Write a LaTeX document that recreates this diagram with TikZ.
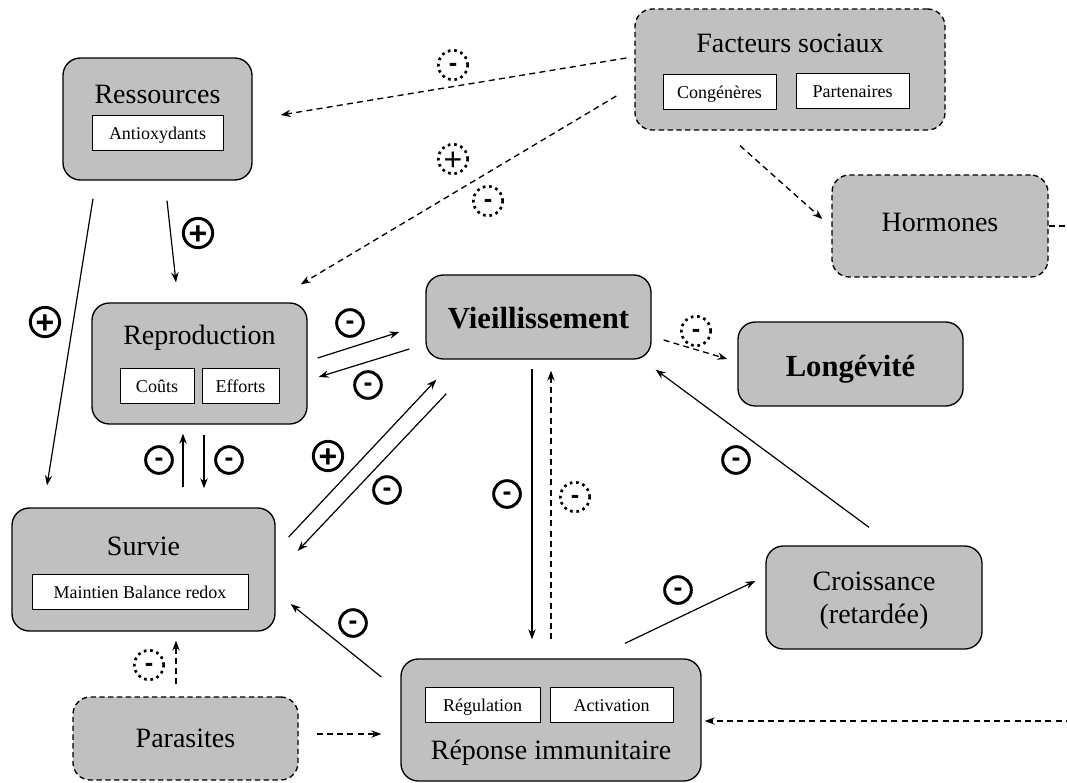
\documentclass[tikz,border=0pt]{standalone}
\usepackage{fontspec}
\setmainfont{Liberation Serif}
\newfontfamily\signfont{Liberation Sans}
\usetikzlibrary{arrows.meta,calc}
\definecolor{boxgray}{RGB}{192,192,192}
\begin{document}
\begin{tikzpicture}[x=0.75pt,y=-0.75pt,
 bigbox/.style n args={2}{draw=black, line width=1pt, fill=boxgray, rounded corners=13pt,
   minimum width=#1*0.75pt, minimum height=#2*0.75pt, inner sep=0pt},
 dbox/.style={dash pattern=on 4pt off 2.6pt},
 sub/.style n args={2}{draw=black, line width=0.75pt, fill=white, inner sep=0pt,
   minimum width=#1*0.75pt, minimum height=#2*0.75pt, text height=10pt, text depth=0pt,
   font=\fontsize{13.5}{16}\selectfont},
 ttl/.style={font=\fontsize{21}{25}\selectfont, inner sep=0pt, anchor=base},
 bttl/.style={font=\fontsize{23}{27}\selectfont\bfseries, inner sep=0pt, anchor=base},
 sarr/.style={line width=0.9pt, -{Stealth[length=7.5pt,width=5.5pt]}},
 darr/.style={sarr, line width=1pt, dash pattern=on 4.5pt off 3.2pt},
 sgn/.style={circle, minimum size=20pt, inner sep=0pt, text depth=0pt},
 negsign/.style={sgn, draw, line width=2.2pt, font=\signfont\bfseries\fontsize{20}{20}\selectfont, text height=10pt},
 possign/.style={sgn, draw, line width=2.2pt, font=\signfont\bfseries\fontsize{24}{24}\selectfont, text height=17pt},
 dnegsign/.style={sgn, minimum size=22pt, draw, line width=2pt, dash pattern=on 2pt off 2.8pt, font=\signfont\bfseries\fontsize{19}{19}\selectfont, text height=10.4pt},
 dpossign/.style={sgn, minimum size=22pt, draw, line width=2pt, dash pattern=on 2pt off 2.8pt, font=\signfont\fontsize{24}{24}\selectfont, text height=17pt},
]
\useasboundingbox (0,0) rectangle (1067,782);
\clip (0,0) rectangle (1067,782);

% ---------- boxes ----------
\node[bigbox={189}{122}] (res) at (157.5,119) {};
\node[ttl] (resT) at (157.5,103) {Ressources};
\node[sub={131}{35}] (antiox) at (157.5,132.5) {Antioxydants};

\node[bigbox={310}{121}, dbox] (fac) at (790,69.5) {};
\node[ttl] (facT) at (790,52) {Facteurs sociaux};
\node[sub={113}{35}] (cong) at (719.5,91.5) {Congénères};
\node[sub={113}{35}] (part) at (852.5,90.5) {Partenaires};

\node[bigbox={216}{102}, dbox] (hor) at (940,226) {};
\node[ttl] (horT) at (940,231) {Hormones};

\node[bigbox={215}{121}] (rep) at (199.5,363.5) {};
\node[ttl] (repT) at (199.5,344) {Reproduction};
\node[sub={74}{35}] (couts) at (157,385.5) {Coûts};
\node[sub={77}{35}] (eff) at (240.5,385.5) {Efforts};

\node[bigbox={225}{84}] (vie) at (538.5,317) {};
\node[bttl] (vieT) at (538.5,328) {Vieillissement};

\node[bigbox={225}{84}] (lon) at (850.5,364) {};
\node[bttl] (lonT) at (850.5,376) {Longévité};

\node[bigbox={263}{123}] (sur) at (143.5,569.5) {};
\node[ttl] (surT) at (143.5,555) {Survie};
\node[sub={216}{35}] (maint) at (140,591.5) {Maintien Balance redox};

\node[bigbox={225}{83}, dbox] (par) at (185.5,738.5) {};
\node[ttl] (parT) at (185.5,747) {Parasites};

\node[bigbox={300}{122}] (rim) at (551,720) {};
\node[sub={115}{35}] (regu) at (482.5,704.5) {Régulation};
\node[sub={123}{35}] (activ) at (611.5,704.5) {Activation};
\node[ttl] (rimT) at (551,759) {Réponse immunitaire};

\node[bigbox={216}{103}] (cro) at (874,597.5) {};
\node[ttl] (croT1) at (874,590) {Croissance};
\node[ttl] (croT2) at (874,623) {(retardée)};

% ---------- connectors ----------
\draw[darr] ([shift={(-8,-11.5)}]fac.west) -- ([shift={(28,-4)}]res.east);
\draw[darr] ([shift={(-18,26.5)}]fac.west) -- ([shift={(-7,-18)}]rep.north east);
\draw[darr] ([shift={(-50,15)}]fac.south) -- ([shift={(-9,-7)}]hor.west);
\draw[darr] (hor.east) -- (1090,226) -- (1090,721) -- ([shift={(3,1)}]rim.east);

\draw[sarr] ([shift={(9.5,20)}]res.south) -- ([shift={(-23.5,-20)}]rep.north);
\draw[sarr] ([shift={(-64.5,18)}]res.south) -- ([shift={(-96.5,-22)}]sur.north);

\draw[sarr] ([shift={(10,-5.5)}]rep.east) -- ([shift={(-26,15)}]vie.west);
\draw[sarr] ([shift={(-16,32)}]vie.west) -- ([shift={(11,13.5)}]rep.east);

\draw[sarr] ([shift={(39.5,-20)}]sur.north) -- ([shift={(-16.5,9)}]rep.south);
\draw[sarr] ([shift={(4.5,10)}]rep.south) -- ([shift={(60.5,-19)}]sur.north);

\draw[sarr] ([shift={(13,-32.5)}]sur.east) -- ([shift={(11,20)}]vie.south west);
\draw[sarr] ([shift={(21,34)}]vie.south west) -- ([shift={(22,-18.5)}]sur.east);

\draw[sarr] ([shift={(-6.5,9)}]vie.south) -- ([shift={(-19,-19)}]rim.north);
\draw[darr] ([shift={(0,-19)}]rim.north) -- ([shift={(12.5,11)}]vie.south);

\draw[darr] ([shift={(12,23)}]vie.east) -- ([shift={(-10,-5)}]lon.west);
\draw[sarr] ([shift={(-5,-18)}]cro.north) -- ([shift={(4,10)}]vie.south east);
\draw[sarr] ([shift={(74,-15)}]rim.north) -- ([shift={(-10,-16.5)}]cro.west);
\draw[sarr] ([shift={(-19,-43)}]rim.west) -- ([shift={(15,34.5)}]sur.east);

\draw[darr] ([shift={(-9.5,-12)}]par.north) -- ([shift={(32.5,9)}]sur.south);
\draw[darr] ([shift={(18,-4.5)}]par.east) -- ([shift={(-19,14)}]rim.west);

% ---------- signs ----------
\node[dnegsign] (s1) at (453,65) {-};
\node[dpossign] (s2) at (453,159) {+};
\node[dnegsign] (s3) at (488,201) {-};
\node[possign] (s4) at (198,233) {+};
\node[possign] (s5) at (45,322) {+};
\node[negsign] (s6) at (350,323) {-};
\node[negsign] (s7) at (368,385) {-};
\node[negsign] (s8) at (159,460) {-};
\node[negsign] (s9) at (229,460) {-};
\node[possign] (s10) at (328,456) {+};
\node[negsign] (s11) at (387,490) {-};
\node[negsign] (s12) at (507,494) {-};
\node[dnegsign] (s13) at (575,497) {-};
\node[dnegsign] (s14) at (696,331) {-};
\node[negsign] (s15) at (736,460) {-};
\node[negsign] (s16) at (678,590) {-};
\node[negsign] (s17) at (353,623) {-};
\node[dnegsign] (s18) at (149,665) {-};
\end{tikzpicture}
\end{document}
